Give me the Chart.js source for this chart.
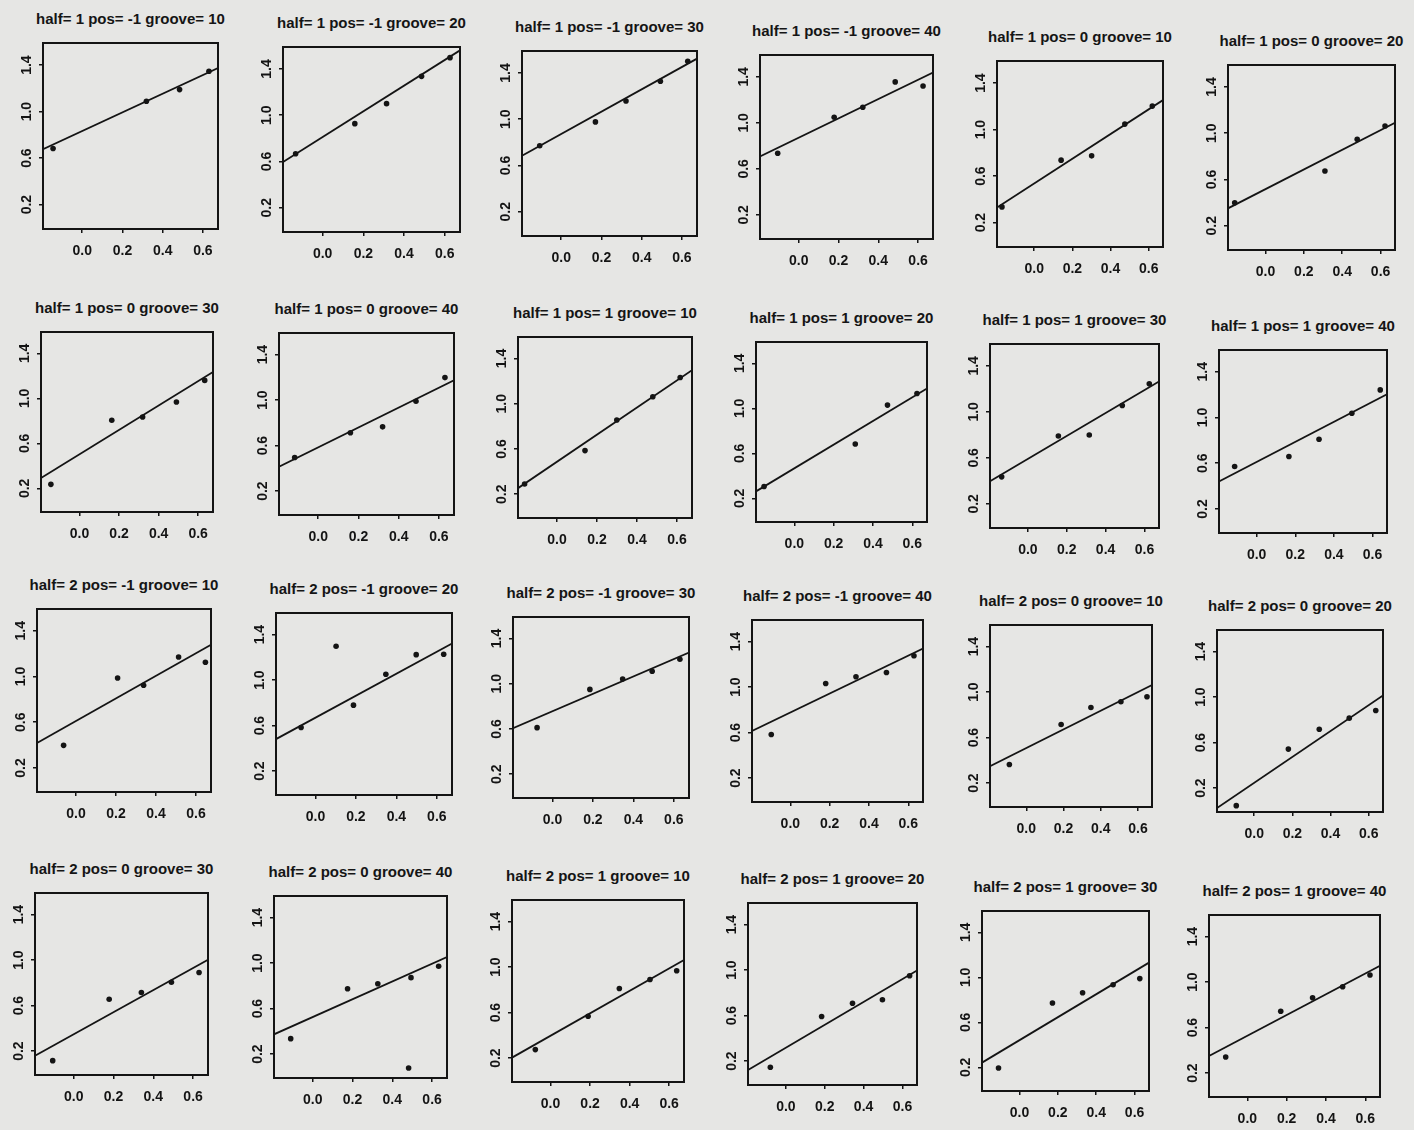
<!DOCTYPE html>
<html>
<head>
<meta charset="utf-8">
<script src="https://cdn.jsdelivr.net/npm/chart.js@4.4.1/dist/chart.umd.min.js"></script>
<style>
  html, body { margin: 0; padding: 0; }
  body { width: 1414px; height: 1130px; background: #e6e6e4; position: relative; overflow: hidden; }
  canvas { position: absolute; }
  .ttl { position: absolute; font-family: "Liberation Sans", Arial, sans-serif; font-weight: bold;
         font-size: 15px; color: #151515; white-space: nowrap; transform: translate(-50%, -50%); }
</style>
</head>
<body>
<script>
// ---------------- data ----------------
const halfLevels = [1, 2];
const posLevels = [-1, 0, 1];
const grooveLevels = [10, 20, 30, 40];
const xTicks = [0.0, 0.2, 0.4, 0.6];
const yTicks = [0.2, 0.6, 1.0, 1.4];
const xRange = [-0.195, 0.675];
const yRange = [-0.01, 1.59];

const panelX = [
  [-0.145, 0.319, 0.484, 0.630],
  [-0.133, 0.158, 0.314, 0.486, 0.626],
  [-0.107, 0.170, 0.322, 0.493, 0.629],
  [-0.106, 0.178, 0.322, 0.485, 0.625],
  [-0.169, 0.141, 0.301, 0.475, 0.619],
  [-0.160, 0.310, 0.478, 0.623],
  [-0.145, 0.163, 0.319, 0.490, 0.633],
  [-0.117, 0.160, 0.320, 0.486, 0.630],
  [-0.162, 0.140, 0.299, 0.479, 0.616],
  [-0.154, 0.310, 0.474, 0.624],
  [-0.135, 0.157, 0.316, 0.486, 0.625],
  [-0.114, 0.167, 0.323, 0.493, 0.640],
  [-0.062, 0.208, 0.338, 0.513, 0.647],
  [-0.071, 0.102, 0.188, 0.348, 0.498, 0.634],
  [-0.076, 0.185, 0.347, 0.493, 0.630],
  [-0.097, 0.180, 0.334, 0.489, 0.629],
  [-0.091, 0.187, 0.347, 0.508, 0.648],
  [-0.094, 0.179, 0.341, 0.498, 0.637],
  [-0.106, 0.178, 0.340, 0.491, 0.630],
  [-0.111, 0.175, 0.327, 0.494, 0.633, 0.482],
  [-0.077, 0.190, 0.348, 0.503, 0.638],
  [-0.080, 0.184, 0.343, 0.497, 0.637],
  [-0.109, 0.172, 0.329, 0.488, 0.627],
  [-0.110, 0.170, 0.332, 0.485, 0.624]
];
const panelY = [
  [0.683, 1.089, 1.189, 1.347],
  [0.667, 0.927, 1.100, 1.336, 1.498],
  [0.770, 0.977, 1.158, 1.328, 1.501],
  [0.736, 1.049, 1.136, 1.356, 1.321],
  [0.335, 0.737, 0.774, 1.047, 1.202],
  [0.399, 0.673, 0.947, 1.062],
  [0.236, 0.805, 0.834, 0.968, 1.160],
  [0.496, 0.713, 0.765, 0.990, 1.198],
  [0.290, 0.586, 0.856, 1.062, 1.232],
  [0.306, 0.684, 1.029, 1.132],
  [0.435, 0.790, 0.799, 1.055, 1.244],
  [0.572, 0.659, 0.810, 1.037, 1.241],
  [0.398, 0.987, 0.923, 1.170, 1.124],
  [0.584, 1.298, 0.780, 1.052, 1.224, 1.227],
  [0.612, 0.950, 1.041, 1.111, 1.217],
  [0.583, 1.032, 1.091, 1.129, 1.276],
  [0.363, 0.715, 0.865, 0.915, 0.959],
  [0.046, 0.543, 0.718, 0.815, 0.882],
  [0.116, 0.656, 0.715, 0.806, 0.891],
  [0.336, 0.775, 0.819, 0.872, 0.972, 0.078],
  [0.275, 0.568, 0.812, 0.891, 0.968],
  [0.146, 0.592, 0.709, 0.739, 0.950],
  [0.194, 0.772, 0.864, 0.935, 0.989],
  [0.342, 0.744, 0.862, 0.959, 1.062]
];
// fitted line value at the left and right edge of the x range
const fitLeft = [0.677, 0.595, 0.684, 0.708, 0.329, 0.350, 0.292, 0.414, 0.254, 0.262, 0.397, 0.441,
                 0.418, 0.481, 0.607, 0.615, 0.348, 0.025, 0.160, 0.374, 0.204, 0.122, 0.242, 0.351];
const fitRight = [1.375, 1.561, 1.524, 1.437, 1.254, 1.091, 1.234, 1.175, 1.296, 1.177, 1.264, 1.203,
                  1.278, 1.321, 1.276, 1.340, 1.062, 1.014, 1.003, 1.054, 1.062, 0.997, 1.131, 1.144];

// ---------------- layout (plot box: left, top, width, height) ----------------
const boxes = [
  [43,43,175,186],[283,47,177,185],[522,51,175,185],[760,55,173,184],[997,61,166,186],[1228,65,167,185],
  [41,332,172,180],[279,333,175,182],[518,337,174,181],[756,342,171,180],[990,344,169,184],[1219,350,168,183],
  [37,609,174,183],[276,613,176,182],[513,617,176,181],[752,620,171,182],[990,625,162,182],[1217,630,166,182],
  [35,893,173,182],[274,896,173,182],[512,900,172,182],[748,903,169,182],[982,911,167,180],[1209,915,171,182]
];
const Y_AXIS_W = 45, X_AXIS_H = 38, PAD_T = 12, PAD_R = 12;
const INK = '#141414';
const FONT = { family: '"Liberation Sans", Arial, sans-serif', weight: 'bold', size: 14 };

const framePlugin = {
  id: 'frame',
  afterDatasetsDraw(chart) {
    const a = chart.chartArea, ctx = chart.ctx;
    ctx.save();
    ctx.strokeStyle = INK;
    ctx.lineWidth = 2;
    ctx.strokeRect(a.left, a.top, a.right - a.left, a.bottom - a.top);
    ctx.restore();
  }
};

for (let i = 0; i < 24; i++) {
  const half = halfLevels[Math.floor(i / 12)];
  const pos = posLevels[Math.floor((i % 12) / 4)];
  const groove = grooveLevels[i % 4];
  const [bl, bt, bw, bh] = boxes[i];

  const title = document.createElement('div');
  title.className = 'ttl';
  title.textContent = 'half= ' + half + ' pos= ' + pos + ' groove= ' + groove;
  title.style.left = (bl + bw / 2) + 'px';
  title.style.top = (bt - 25) + 'px';
  document.body.appendChild(title);

  const cv = document.createElement('canvas');
  const W = bw + Y_AXIS_W + PAD_R, H = bh + PAD_T + X_AXIS_H;
  cv.width = W; cv.height = H;
  cv.style.left = (bl - Y_AXIS_W) + 'px';
  cv.style.top = (bt - PAD_T) + 'px';
  cv.style.width = W + 'px'; cv.style.height = H + 'px';
  document.body.appendChild(cv);

  const pts = panelX[i].map((x, k) => ({ x: x, y: panelY[i][k] }));
  const line = [{ x: xRange[0], y: fitLeft[i] }, { x: xRange[1], y: fitRight[i] }];

  new Chart(cv, {
    type: 'scatter',
    data: {
      datasets: [
        { data: pts, pointRadius: 2.8, pointBorderWidth: 0, pointBackgroundColor: INK, showLine: false },
        { data: line, showLine: true, pointRadius: 0, borderColor: INK, borderWidth: 1.8, fill: false }
      ]
    },
    options: {
      responsive: false,
      animation: false,
      devicePixelRatio: 1,
      layout: { padding: { top: PAD_T, right: PAD_R, left: 0, bottom: 0 } },
      plugins: { legend: { display: false }, tooltip: { enabled: false }, title: { display: false } },
      scales: {
        x: {
          type: 'linear', min: xRange[0], max: xRange[1],
          afterBuildTicks: s => { s.ticks = xTicks.map(v => ({ value: v })); },
          afterFit: s => { s.height = X_AXIS_H; },
          border: { display: false },
          grid: { drawOnChartArea: false, drawTicks: true, tickLength: 4, color: INK, lineWidth: 1.5 },
          ticks: { color: INK, font: FONT, padding: 10, maxRotation: 0, autoSkip: false,
                   callback: v => Number(v).toFixed(1) }
        },
        y: {
          type: 'linear', min: yRange[0], max: yRange[1],
          afterBuildTicks: s => { s.ticks = yTicks.map(v => ({ value: v })); },
          afterFit: s => { s.width = Y_AXIS_W; },
          border: { display: false },
          grid: { drawOnChartArea: false, drawTicks: true, tickLength: 4, color: INK, lineWidth: 1.5 },
          ticks: { color: INK, font: FONT, padding: 2, minRotation: 90, maxRotation: 90,
                   crossAlign: 'center', autoSkip: false, callback: v => Number(v).toFixed(1) }
        }
      }
    },
    plugins: [framePlugin]
  });
}
</script>
</body>
</html>
